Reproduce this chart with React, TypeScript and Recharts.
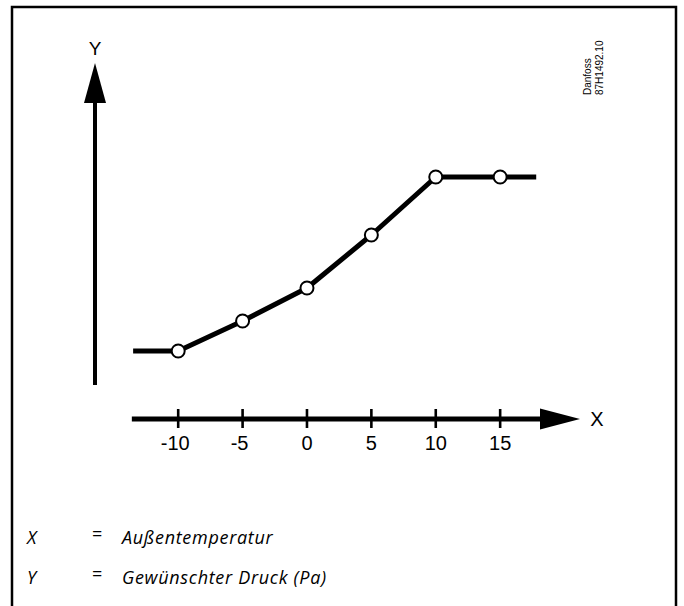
import { LineChart, Line, XAxis, YAxis, ReferenceLine } from "recharts";

// heating-curve setpoints: outdoor temperature -> desired pressure (relative units)
const setpointTemps = [-10, -5, 0, 5, 10, 15];
const setpointPressure = [68, 98, 131, 184, 242, 242];
// the curve stays flat beyond the outer setpoints
const curveStart = { t: -13.5, p: 68 };
const curveEnd = { t: 17.8, p: 242 };

const tickValues = [-10, -5, 0, 5, 10, 15];
const xDomain = [-16.46, 21.2];
const yDomain = [0, 356];
const xAxisStart = -13.6;
const yAxisSpan = [34, 356];

const legendRows = [
  ["X", "Außentemperatur"],
  ["Y", "Gewünschter Druck (Pa)"],
];
const docCode = ["Danfoss", "87H1492.10"];

const data = [
  { ...curveStart, marker: false },
  ...setpointTemps.map((t, i) => ({ t, p: setpointPressure[i], marker: true })),
  { ...curveEnd, marker: false },
];

const ARIAL = "'Liberation Sans', Arial, sans-serif";
const ITALIC = "'Open Sans', 'Noto Sans', sans-serif";

function arrowShape(headLen: number, headHalf: number) {
  return (props: any) => {
    const { x1, y1, x2, y2, strokeWidth } = props;
    const dx = x2 - x1;
    const dy = y2 - y1;
    const len = Math.hypot(dx, dy) || 1;
    const ux = dx / len;
    const uy = dy / len;
    const bx = x2 - ux * headLen;
    const by = y2 - uy * headLen;
    return (
      <g>
        <line x1={x1} y1={y1} x2={bx + ux} y2={by + uy} stroke="#000" strokeWidth={strokeWidth} />
        <polygon
          points={`${x2},${y2} ${bx - uy * headHalf},${by + ux * headHalf} ${bx + uy * headHalf},${by - ux * headHalf}`}
          fill="#000"
        />
      </g>
    );
  };
}

function Tick(props: any) {
  const { x, y, payload } = props;
  const v = payload.value;
  return (
    <g>
      <line x1={x} y1={y - 10} x2={x} y2={y + 9} stroke="#000" strokeWidth={2.6} />
      <text
        x={x}
        y={y + 31}
        dx={v < 0 ? -3 : 0}
        textAnchor="middle"
        fontFamily={ARIAL}
        fontSize={20}
        fill="#000"
      >
        {v}
      </text>
    </g>
  );
}

function Dot(props: any) {
  const { cx, cy, payload, index } = props;
  if (!payload.marker) return <g key={`d${index}`} />;
  return <circle key={`d${index}`} cx={cx} cy={cy} r={6.5} fill="#fff" stroke="#000" strokeWidth={2} />;
}

export default function App() {
  return (
    <div style={{ position: "absolute", left: 0, top: 0, width: 684, height: 606, background: "#fff" }}>
      <LineChart width={684} height={606} data={data} margin={{ top: 63, right: 104, bottom: 157, left: 95 }}>
        <XAxis
          dataKey="t"
          type="number"
          domain={xDomain}
          allowDataOverflow
          ticks={tickValues}
          interval={0}
          height={30}
          axisLine={false}
          tickLine={false}
          tickSize={0}
          tickMargin={0}
          tick={<Tick />}
        />
        <YAxis type="number" domain={yDomain} allowDataOverflow hide />
        <ReferenceLine
          segment={[{ x: xAxisStart, y: yDomain[0] }, { x: xDomain[1], y: yDomain[0] }]}
          ifOverflow="visible"
          strokeWidth={5}
          shape={arrowShape(40, 10.5)}
        />
        <ReferenceLine
          segment={[{ x: xDomain[0], y: yAxisSpan[0] }, { x: xDomain[0], y: yAxisSpan[1] }]}
          ifOverflow="visible"
          strokeWidth={4}
          shape={arrowShape(40, 11)}
        />
        <Line
          dataKey="p"
          type="linear"
          stroke="#000"
          strokeWidth={5}
          strokeLinejoin="round"
          dot={Dot}
          activeDot={false}
          isAnimationActive={false}
        />
      </LineChart>
      <svg width={684} height={606} style={{ position: "absolute", left: 0, top: 0, pointerEvents: "none" }}>
        <path d="M12,606 L12,7 L676,7 L676,606" fill="none" stroke="#000" strokeWidth={2.5} />
        <text x={95} y={55} textAnchor="middle" fontFamily={ARIAL} fontSize={19}>Y</text>
        <text x={597} y={426} textAnchor="middle" fontFamily={ARIAL} fontSize={20}>X</text>
        {docCode.map((s, i) => (
          <text
            key={s}
            transform={`translate(${591 + i * 12},95) rotate(-90)`}
            fontFamily={ARIAL}
            fontSize={10}
          >
            {s}
          </text>
        ))}
        {legendRows.map(([sym, label], i) => (
          <g key={sym} fontFamily={ITALIC} fontSize={18}>
            <text x={27} y={544 + i * 40} fontStyle="italic">{sym}</text>
            <text x={92} y={540 + i * 40}>=</text>
            <text x={122} y={544 + i * 40} fontStyle="italic" letterSpacing={0.7}>{label}</text>
          </g>
        ))}
      </svg>
    </div>
  );
}
